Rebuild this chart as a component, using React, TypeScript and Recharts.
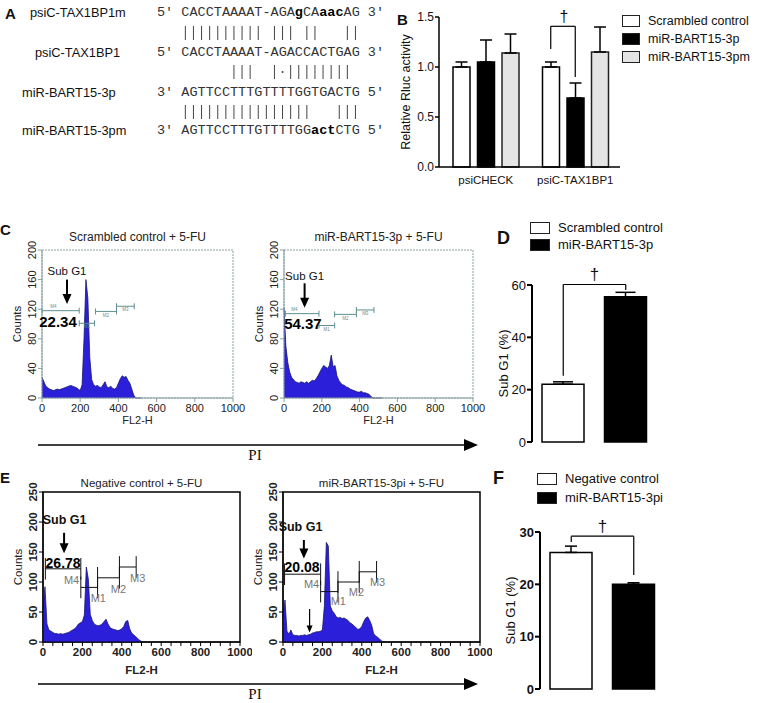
import React from "react";
import {
  BarChart,
  Bar,
  Cell,
  XAxis,
  YAxis,
  ErrorBar,
  ReferenceLine,
  ReferenceDot,
  ReferenceArea,
  Legend,
  AreaChart,
  Area,
  Label,
} from "recharts";

const SANS = "Arial, 'Liberation Sans', Helvetica, sans-serif";
const MONO = "'Courier New', 'Liberation Mono', monospace";
const HIST_FILL = "#2b1fd9";
const HIST_EDGE = "#17176e";

// ---- panel A: sequence alignment
const seqNames = ["psiC-TAX1BP1m", "psiC-TAX1BP1", "miR-BART15-3p", "miR-BART15-3pm"];
const seqStrings = [
  "5' CACCTAAAAT-AGAgCAaacAG 3'",
  "5' CACCTAAAAT-AGACCACTGAG 3'",
  "3' AGTTCCTTTGTTTTGGTGACTG 5'",
  "3' AGTTCCTTTGTTTTGGactCTG 5'",
];
const pairLines = [
  "   |||||||||| ||| ||   ||",
  "         |||  |·||||||||",
  "   ||||||||||||||||   |||",
];

// ---- panel B: luciferase assay
const bGroups = ["psiCHECK", "psiC-TAX1BP1"];
const bSeries = ["Scrambled control", "miR-BART15-3p", "miR-BART15-3pm"];
const bScrambled = [1.0, 1.0];
const bScrambledErr = [0.05, 0.05];
const bMir = [1.05, 0.69];
const bMirErr = [0.22, 0.15];
const bMirM = [1.14, 1.15];
const bMirMErr = [0.19, 0.25];
const bTicks = [0, 0.5, 1.0, 1.5];

// ---- panel D / F: sub G1 percentages
const dCats = ["Scrambled control", "miR-BART15-3p"];
const dValues = [22.1, 55.5];
const dErr = [0.9, 1.7];
const dTicks = [0, 20, 40, 60];

const fCats = ["Negative control", "miR-BART15-3pi"];
const fValues = [26.1, 20.0];
const fErr = [1.2, 0.3];
const fTicks = [0, 10, 20, 30];

// ---- panels C / E: flow cytometry histograms (FL2-H bins)
const flowBins = [
  0, 10, 20, 30, 40, 50, 60, 70, 80, 90, 100, 110, 120, 130, 140, 150, 160, 170, 180, 190,
  200, 210, 220, 230, 240, 250, 260, 270, 280, 290, 300, 310, 320, 330, 340, 350, 360, 370,
  380, 390, 400, 410, 420, 430, 440, 450, 460, 470, 480, 490, 500, 510, 520,
];
const scrambledCounts = [
  28, 22, 16, 14, 12, 11, 10, 11, 12, 11, 12, 13, 14, 15, 16, 17, 16, 15, 14, 12,
  10, 18, 80, 160, 135, 55, 25, 18, 16, 17, 15, 14, 18, 22, 15, 14, 16, 13, 12, 14,
  20, 26, 30, 28, 29, 24, 20, 12, 4, 0, 0, 0, 0,
];
const mirCounts = [
  122, 70, 48, 35, 28, 25, 22, 21, 20, 22, 21, 20, 22, 20, 22, 24, 23, 26, 30, 35,
  40, 44, 42, 40, 44, 58, 42, 44, 30, 24, 20, 18, 17, 15, 14, 12, 11, 10, 9, 8,
  8, 9, 7, 7, 6, 5, 2, 0, 0, 0, 0, 0, 0,
];
const negativeCounts = [
  55, 92, 30, 20, 18, 16, 14, 14, 13, 14, 13, 14, 15, 16, 18, 20, 22, 25, 30, 32,
  34, 45, 125, 105, 46, 36, 30, 28, 27, 28, 30, 34, 38, 30, 24, 22, 21, 20, 19, 20,
  22, 26, 34, 36, 22, 15, 12, 9, 6, 3, 1, 0, 0,
];
const inhibitorCounts = [
  40, 70, 18, 13, 20, 12, 11, 11, 10, 11, 11, 12, 11, 12, 13, 15, 16, 17, 17, 18,
  20, 60, 166, 160, 60, 52, 48, 42, 40, 41, 39, 40, 38, 36, 32, 30, 27, 24, 21, 22,
  26, 34, 40, 42, 36, 28, 14, 10, 8, 5, 2, 0, 0,
];
const cXTicks = [0, 200, 400, 600, 800, 1000];
const eXTicks = [
  0, 50, 100, 150, 200, 250, 300, 350, 400, 450, 500, 550, 600, 650, 700, 750, 800, 850,
  900, 950, 1000,
];
const cYTicks = [0, 40, 80, 120, 160, 200];
const eYTicks = [0, 50, 100, 150, 200, 250];

const CHAR_W = 8.1;
const SEQ_X = 157;

const Swatches = ({ names, fills, fontSize, rowH, boxW, boxH, gap }: any) => (
  <div style={{ fontFamily: SANS, fontSize, color: "#111", lineHeight: 1 }}>
    {names.map((n: string, i: number) => (
      <div key={n} style={{ display: "flex", alignItems: "center", height: rowH, whiteSpace: "nowrap" }}>
        <span
          style={{
            display: "inline-block",
            width: boxW,
            height: boxH,
            boxSizing: "border-box",
            background: fills[i],
            border: "1.3px solid #222",
            marginRight: gap,
          }}
        />
        {n}
      </div>
    ))}
  </div>
);

const RotTick = (props: any) => {
  const { x, y, payload, fs, fw } = props;
  return (
    <text
      x={x}
      y={y}
      transform={`rotate(-90 ${x} ${y})`}
      textAnchor="middle"
      fontSize={fs}
      fontWeight={fw}
      fill="#222"
      fontFamily={SANS}
    >
      {payload.value}
    </text>
  );
};

const arrowHead = (w: number, l: number) => (p: any) => (
  <polygon points={`${p.cx - w},${p.cy - l} ${p.cx + w},${p.cy - l} ${p.cx},${p.cy}`} fill="#000" />
);

const textShape = (txt: string, fs: number, fw: string, fill: string) => (p: any) => (
  <text
    x={p.cx}
    y={p.cy}
    textAnchor="middle"
    dominantBaseline="central"
    fontSize={fs}
    fontWeight={fw}
    fill={fill}
    fontFamily={SANS}
  >
    {txt}
  </text>
);

// draws a reference segment shifted sideways by dx pixels (bracket legs inside a bar group)
const shiftedLine = (dx: number, dagger?: boolean) => (p: any) => (
  <g>
    <line x1={p.x1 + dx} y1={p.y1} x2={p.x2} y2={p.y2} stroke="#000" strokeWidth={1.2} />
    {dagger ? (
      <text x={p.x1 + dx / 2 + 1} y={p.y1 - 4} textAnchor="middle" fontSize={16} fill="#111" fontFamily={SANS}>
        †
      </text>
    ) : null}
  </g>
);
const legLine = (dx: number) => (p: any) => (
  <line x1={p.x1 + dx} y1={p.y1} x2={p.x2 + dx} y2={p.y2} stroke="#000" strokeWidth={1.2} />
);

const FlowHistogram = ({ cfg }: any) => {
  const data = flowBins.map((x, i) => ({ x, c: cfg.counts[i] }));
  const left = cfg.plotLeft - 42;
  const top = cfg.plotTop - 20;
  const width = cfg.plotRight - left + 12;
  const height = cfg.plotBottom - top + cfg.xAxisH;
  const axisStroke = cfg.frame;
  return (
    <>
      <div
        style={{
          position: "absolute",
          left: (cfg.plotLeft + cfg.plotRight) / 2 - 120,
          width: 240,
          top: cfg.titleY - 8,
          textAlign: "center",
          fontSize: cfg.titleSize,
          lineHeight: "16px",
          color: "#222",
        }}
      >
        {cfg.title}
      </div>
      <div style={{ position: "absolute", left, top }}>
        <AreaChart width={width} height={height} data={data} margin={{ top: 20, right: 12, bottom: 0, left: 0 }}>
          <XAxis
            type="number"
            dataKey="x"
            domain={[0, 1000]}
            ticks={cfg.xTicks}
            interval={0}
            tickFormatter={(v: number) => (v % 200 === 0 ? String(v) : "")}
            height={cfg.xAxisH}
            tickSize={4}
            tickMargin={2}
            stroke={axisStroke}
            tick={{ fontSize: cfg.tickSize, fill: "#222", fontWeight: cfg.tickWeight, fontFamily: SANS }}
          >
            <Label
              value="FL2-H"
              position="center"
              dy={cfg.xLabelDy}
              fontSize={cfg.tickSize}
              fontWeight={cfg.tickWeight}
              fill="#222"
            />
          </XAxis>
          <YAxis
            width={42}
            domain={[0, cfg.yMax]}
            ticks={cfg.yTicks}
            interval={0}
            tickSize={4}
            tickMargin={2}
            stroke={axisStroke}
            tick={(p: any) => <RotTick {...p} fs={cfg.tickSize} fw={cfg.tickWeight} />}
          >
            <Label value="Counts" angle={-90} position="center" dx={-4} fontSize={11.5} fill="#222" />
          </YAxis>
          <ReferenceArea
            x1={0}
            x2={1000}
            y1={0}
            y2={cfg.yMax}
            fill="none"
            stroke={axisStroke}
            strokeWidth={cfg.frameW}
            strokeDasharray={cfg.frameDash}
            ifOverflow="visible"
          />
          <Area
            type="linear"
            dataKey="c"
            fill={HIST_FILL}
            fillOpacity={1}
            stroke={HIST_EDGE}
            strokeWidth={0.8}
            isAnimationActive={false}
          />
          {cfg.gates.map((g: any) => (
            <ReferenceLine
              key={g.label + "h"}
              segment={[{ x: g.from, y: g.at }, { x: g.to, y: g.at }]}
              stroke={cfg.gateColor}
              strokeWidth={1}
            />
          ))}
          {cfg.gates.map((g: any) => (
            <ReferenceLine
              key={g.label + "a"}
              segment={[{ x: g.from, y: g.at - cfg.gateTick }, { x: g.from, y: g.at + cfg.gateTick }]}
              stroke={cfg.gateColor}
              strokeWidth={1}
            />
          ))}
          {cfg.gates.map((g: any) => (
            <ReferenceLine
              key={g.label + "b"}
              segment={[{ x: g.to, y: g.at - cfg.gateTick }, { x: g.to, y: g.at + cfg.gateTick }]}
              stroke={cfg.gateColor}
              strokeWidth={1}
            />
          ))}
          {cfg.gates.map((g: any) => (
            <ReferenceDot
              key={g.label + "t"}
              x={g.lx}
              y={g.ly}
              r={0}
              shape={textShape(g.label, cfg.gateLabelSize, "normal", cfg.gateLabelColor)}
            />
          ))}
          {cfg.arrows.map((a: any, i: number) => (
            <ReferenceLine
              key={"s" + i}
              segment={[{ x: a.x, y: a.from }, { x: a.x, y: a.to + 4 }]}
              stroke="#000"
              strokeWidth={a.w}
            />
          ))}
          {cfg.arrows.map((a: any, i: number) => (
            <ReferenceDot key={"h" + i} x={a.x} y={a.to} r={0} shape={arrowHead(a.hw, a.hl)} />
          ))}
          <ReferenceDot
            x={cfg.sub.x}
            y={cfg.sub.y}
            r={0}
            shape={textShape("Sub G1", cfg.sub.size, cfg.sub.weight, "#111")}
          />
          <ReferenceDot
            x={cfg.pct.x}
            y={cfg.pct.y}
            r={0}
            shape={textShape(cfg.pct.text, cfg.pct.size, "bold", "#000")}
          />
        </AreaChart>
      </div>
    </>
  );
};

const cScrambled = {
  title: "Scrambled control + 5-FU",
  titleY: 237,
  titleSize: 12,
  counts: scrambledCounts,
  plotLeft: 42,
  plotRight: 233,
  plotTop: 250,
  plotBottom: 398,
  xAxisH: 31,
  xLabelDy: 7,
  xTicks: cXTicks,
  yTicks: cYTicks,
  yMax: 200,
  tickSize: 11,
  tickWeight: "normal",
  frame: "#8aa0a0",
  frameW: 1,
  frameDash: "2 1",
  gateColor: "#5f8f8f",
  gateTick: 4,
  gateLabelSize: 4.5,
  gateLabelColor: "#5f8f8f",
  gates: [
    { from: 0, to: 195, at: 118, label: "M4", lx: 60, ly: 123 },
    { from: 195, to: 275, at: 101, label: "M1", lx: 235, ly: 96 },
    { from: 280, to: 390, at: 117, label: "M2", lx: 335, ly: 112 },
    { from: 390, to: 483, at: 124, label: "M3", lx: 436, ly: 119 },
  ],
  arrows: [{ x: 131, from: 160, to: 127, w: 2, hw: 4.5, hl: 10 }],
  sub: { x: 131, y: 172, size: 11.5, weight: "normal" },
  pct: { x: 84, y: 104, text: "22.34", size: 15 },
};

const cMir = {
  ...cScrambled,
  title: "miR-BART15-3p + 5-FU",
  counts: mirCounts,
  plotLeft: 284,
  plotRight: 473,
  gates: [
    { from: 7, to: 185, at: 114, label: "M4", lx: 55, ly: 119 },
    { from: 185, to: 268, at: 98, label: "M1", lx: 226, ly: 93 },
    { from: 268, to: 383, at: 113, label: "M2", lx: 325, ly: 108 },
    { from: 383, to: 476, at: 119, label: "M3", lx: 430, ly: 114 },
  ],
  arrows: [{ x: 109, from: 155, to: 122, w: 2, hw: 4.5, hl: 10 }],
  sub: { x: 109, y: 165, size: 11.5, weight: "normal" },
  pct: { x: 100, y: 101, text: "54.37", size: 15 },
};

const eNegative = {
  title: "Negative control + 5-FU",
  titleY: 483,
  titleSize: 11.5,
  counts: negativeCounts,
  plotLeft: 43,
  plotRight: 240,
  plotTop: 492,
  plotBottom: 642,
  xAxisH: 34,
  xLabelDy: 11,
  xTicks: eXTicks,
  yTicks: eYTicks,
  yMax: 250,
  tickSize: 11.5,
  tickWeight: "bold",
  frame: "#000",
  frameW: 1.5,
  frameDash: undefined,
  gateColor: "#111",
  gateTick: 18,
  gateLabelSize: 11,
  gateLabelColor: "#777",
  gates: [
    { from: 12, to: 192, at: 122, label: "M4", lx: 145, ly: 103 },
    { from: 192, to: 277, at: 91, label: "M1", lx: 281, ly: 74 },
    { from: 277, to: 388, at: 107, label: "M2", lx: 383, ly: 89 },
    { from: 388, to: 473, at: 125, label: "M3", lx: 481, ly: 106 },
  ],
  arrows: [{ x: 107, from: 182, to: 148, w: 2, hw: 4.5, hl: 10 }],
  sub: { x: 110, y: 203, size: 12.5, weight: "bold" },
  pct: { x: 102, y: 131, text: "26.78", size: 14 },
};

const eInhibitor = {
  ...eNegative,
  title: "miR-BART15-3pi + 5-FU",
  counts: inhibitorCounts,
  plotLeft: 283,
  plotRight: 480,
  gates: [
    { from: 8, to: 191, at: 113, label: "M4", lx: 145, ly: 97 },
    { from: 191, to: 279, at: 84, label: "M1", lx: 281, ly: 69 },
    { from: 279, to: 387, at: 100, label: "M2", lx: 373, ly: 83 },
    { from: 387, to: 475, at: 117, label: "M3", lx: 480, ly: 100 },
  ],
  arrows: [
    { x: 106, from: 170, to: 139, w: 2, hw: 4.5, hl: 10 },
    { x: 135, from: 55, to: 16, w: 1.2, hw: 3, hl: 7 },
  ],
  sub: { x: 89, y: 192, size: 12.5, weight: "bold" },
  pct: { x: 97, y: 125, text: "20.08", size: 14 },
};

const PIArrow = ({ y }: { y: number }) => (
  <>
    <svg style={{ position: "absolute", left: 0, top: y - 8 }} width={490} height={16}>
      <line x1={38} y1={8} x2={466} y2={8} stroke="#000" strokeWidth={1.5} />
      <polygon points="464,2 478,8 464,14" fill="#000" />
    </svg>
    <div
      style={{
        position: "absolute",
        left: 235,
        width: 40,
        top: y + 2,
        textAlign: "center",
        fontFamily: "'Liberation Serif', serif",
        fontSize: 15,
        lineHeight: "16px",
      }}
    >
      PI
    </div>
  </>
);

const Letter = ({ ch, x, y, size }: any) => (
  <div style={{ position: "absolute", left: x, top: y - size / 2 - 1, fontWeight: "bold", fontSize: size, lineHeight: `${size + 2}px` }}>
    {ch}
  </div>
);

const PairMarks = ({ s, y }: { s: string; y: number }) => (
  <svg style={{ position: "absolute", left: SEQ_X, top: y - 9 }} width={s.length * CHAR_W + 4} height={18}>
    {[...s].map((ch, j) => {
      const cx = j * CHAR_W + CHAR_W / 2;
      if (ch === "|") return <line key={j} x1={cx} y1={2} x2={cx} y2={16} stroke="#444" strokeWidth={1} />;
      if (ch === "·") return <circle key={j} cx={cx} cy={9} r={1} fill="#444" />;
      return null;
    })}
  </svg>
);

export default function App() {
  const seqRowY = [13, 53, 93, 131];
  const pairY = [33, 72, 112];
  const seqNameX = [30, 35, 22, 22];

  const bData = bGroups.map((g, i) => ({
    group: g,
    s0: bScrambled[i],
    e0: [0, bScrambledErr[i]],
    s1: bMir[i],
    e1: [0, bMirErr[i]],
    s2: bMirM[i],
    e2: [0, bMirMErr[i]],
  }));
  const bBar = 17;
  const bGap = 7.5;
  const bShift = -(bBar + bGap);

  const dData = dCats.map((c, i) => ({ name: c, v: dValues[i], e: [0, dErr[i]] }));
  const fData = fCats.map((c, i) => ({ name: c, v: fValues[i], e: [0, fErr[i]] }));
  const twoFills = ["#ffffff", "#000000"];

  return (
    <div
      style={{
        position: "absolute",
        left: 0,
        top: 0,
        width: 764,
        height: 703,
        background: "#fff",
        fontFamily: SANS,
        color: "#111",
        overflow: "hidden",
      }}
    >
      {/* A */}
      <Letter ch="A" x={5} y={13} size={15} />
      {seqNames.map((n, i) => (
        <div
          key={n}
          style={{ position: "absolute", left: seqNameX[i], top: seqRowY[i] - 8, fontSize: 12.8, lineHeight: "16px", whiteSpace: "nowrap" }}
        >
          {n}
        </div>
      ))}
      {seqStrings.map((s, i) => (
        <div
          key={s}
          style={{
            position: "absolute",
            left: SEQ_X,
            top: seqRowY[i] - 8,
            fontFamily: MONO,
            fontSize: 13.5,
            lineHeight: "16px",
            whiteSpace: "pre",
            color: "#333",
          }}
        >
          {[...s].map((ch, j) => (ch >= "a" && ch <= "z" ? <b key={j} style={{ color: "#000" }}>{ch}</b> : ch))}
        </div>
      ))}
      {pairLines.map((s, i) => (
        <PairMarks key={i} s={s} y={pairY[i]} />
      ))}

      {/* B */}
      <Letter ch="B" x={397} y={19} size={15} />
      <div style={{ position: "absolute", left: 390, top: 0 }}>
        <BarChart
          width={374}
          height={190}
          data={bData}
          margin={{ top: 17, right: 144, bottom: 3, left: 0 }}
          barSize={bBar}
          barGap={bGap}
        >
          <XAxis
            dataKey="group"
            padding={{ left: 2, right: 0 }}
            height={20}
            tickLine={false}
            tickMargin={3}
            interval={0}
            stroke="#000"
            strokeWidth={1.5}
            tick={{ fontSize: 11.5, fill: "#111", fontFamily: SANS }}
          />
          <YAxis
            width={49}
            domain={[0, 1.5]}
            ticks={bTicks}
            interval={0}
            tickFormatter={(v: number) => v.toFixed(1)}
            tickSize={4}
            tickMargin={1}
            stroke="#000"
            strokeWidth={1.5}
            tick={{ fontSize: 12, fill: "#111", fontFamily: SANS }}
          >
            <Label value="Relative Rluc activity" angle={-90} position="center" dx={-9} fontSize={12.5} fill="#111" />
          </YAxis>
          <Bar dataKey="s0" name={bSeries[0]} fill="#ffffff" stroke="#000" strokeWidth={1.5} isAnimationActive={false}>
            <ErrorBar dataKey="e0" width={6} stroke="#000" strokeWidth={1.5} />
          </Bar>
          <Bar dataKey="s1" name={bSeries[1]} fill="#000000" stroke="#000" strokeWidth={1.5} isAnimationActive={false}>
            <ErrorBar dataKey="e1" width={6} stroke="#000" strokeWidth={1.5} />
          </Bar>
          <Bar dataKey="s2" name={bSeries[2]} fill="#e4e4e4" stroke="#222" strokeWidth={1.5} isAnimationActive={false}>
            <ErrorBar dataKey="e2" width={6} stroke="#000" strokeWidth={1.5} />
          </Bar>
          <ReferenceLine
            segment={[{ x: bGroups[1], y: 1.407 }, { x: bGroups[1], y: 1.407 }]}
            ifOverflow="visible"
            shape={shiftedLine(bShift, true)}
          />
          <ReferenceLine
            segment={[{ x: bGroups[1], y: 1.407 }, { x: bGroups[1], y: 1.18 }]}
            ifOverflow="visible"
            shape={legLine(bShift)}
          />
          <ReferenceLine
            segment={[{ x: bGroups[1], y: 1.407 }, { x: bGroups[1], y: 0.9 }]}
            ifOverflow="visible"
            shape={legLine(0)}
          />
          <Legend
            layout="vertical"
            align="center"
            verticalAlign="middle"
            wrapperStyle={{ left: 232, top: 12, width: 142 }}
            content={() => (
              <Swatches
                names={bSeries}
                fills={["#ffffff", "#000000", "#e4e4e4"]}
                fontSize={12.5}
                rowH={18}
                boxW={18}
                boxH={12}
                gap={8}
              />
            )}
          />
        </BarChart>
      </div>

      {/* C */}
      <Letter ch="C" x={0} y={229} size={15} />
      <FlowHistogram cfg={cScrambled} />
      <FlowHistogram cfg={cMir} />
      <PIArrow y={445} />

      {/* D */}
      <Letter ch="D" x={497} y={238} size={18} />
      <div style={{ position: "absolute", left: 490, top: 200 }}>
        <BarChart width={180} height={262} data={dData} margin={{ top: 85, right: 13, bottom: 20, left: 0 }} barSize={42}>
          <XAxis dataKey="name" tick={false} tickLine={false} height={0} stroke="#000" strokeWidth={2} />
          <YAxis
            width={42}
            domain={[0, 60]}
            ticks={dTicks}
            interval={0}
            tickSize={5}
            tickMargin={1}
            stroke="#000"
            strokeWidth={2}
            tick={{ fontSize: 13, fill: "#111", fontFamily: SANS }}
          >
            <Label value="Sub G1 (%)" angle={-90} position="center" dx={-8} fontSize={13} fill="#111" />
          </YAxis>
          <Bar dataKey="v" strokeWidth={1.5} isAnimationActive={false}>
            {dCats.map((c, i) => (
              <Cell key={c} fill={twoFills[i]} stroke="#000" />
            ))}
            <ErrorBar dataKey="e" width={10} stroke="#000" strokeWidth={1.5} />
          </Bar>
          <ReferenceLine
            segment={[{ x: dCats[0], y: 60.2 }, { x: dCats[1], y: 60.2 }]}
            ifOverflow="visible"
            stroke="#000"
            strokeWidth={1.2}
            label={{ value: "†", position: "top", offset: 4, fontSize: 17, fill: "#111" }}
          />
          <ReferenceLine
            segment={[{ x: dCats[0], y: 60.2 }, { x: dCats[0], y: 25.3 }]}
            ifOverflow="visible"
            stroke="#000"
            strokeWidth={1.2}
          />
          <ReferenceLine
            segment={[{ x: dCats[1], y: 60.2 }, { x: dCats[1], y: 58.1 }]}
            ifOverflow="visible"
            stroke="#000"
            strokeWidth={1.2}
          />
          <Legend
            layout="vertical"
            align="center"
            verticalAlign="middle"
            wrapperStyle={{ left: 40, top: 19, width: 140 }}
            content={() => (
              <Swatches names={dCats} fills={twoFills} fontSize={13} rowH={17} boxW={20} boxH={12} gap={8} />
            )}
          />
        </BarChart>
      </div>

      {/* E */}
      <Letter ch="E" x={0} y={477} size={15} />
      <FlowHistogram cfg={eNegative} />
      <FlowHistogram cfg={eInhibitor} />
      <PIArrow y={684} />

      {/* F */}
      <Letter ch="F" x={493} y={478} size={18} />
      <div style={{ position: "absolute", left: 490, top: 460 }}>
        <BarChart width={190} height={243} data={fData} margin={{ top: 72, right: 15, bottom: 14, left: 0 }} barSize={42}>
          <XAxis dataKey="name" tick={false} tickLine={false} height={0} stroke="#000" strokeWidth={2} />
          <YAxis
            width={50}
            domain={[0, 30]}
            ticks={fTicks}
            interval={0}
            tickSize={5}
            tickMargin={1}
            stroke="#000"
            strokeWidth={2}
            tick={{ fontSize: 13, fill: "#111", fontWeight: "bold", fontFamily: SANS }}
          >
            <Label value="Sub G1 (%)" angle={-90} position="center" dx={-5} fontSize={13} fill="#111" />
          </YAxis>
          <Bar dataKey="v" strokeWidth={1.5} isAnimationActive={false}>
            {fCats.map((c, i) => (
              <Cell key={c} fill={twoFills[i]} stroke="#000" />
            ))}
            <ErrorBar dataKey="e" width={6} stroke="#000" strokeWidth={1.5} />
          </Bar>
          <ReferenceLine
            segment={[{ x: fCats[0], y: 29.2 }, { x: fCats[1], y: 29.2 }]}
            stroke="#000"
            strokeWidth={1.2}
            label={{ value: "†", position: "top", offset: 4, fontSize: 17, fill: "#111" }}
          />
          <ReferenceLine segment={[{ x: fCats[0], y: 29.2 }, { x: fCats[0], y: 28.1 }]} stroke="#000" strokeWidth={1.2} />
          <ReferenceLine segment={[{ x: fCats[1], y: 29.2 }, { x: fCats[1], y: 21.8 }]} stroke="#000" strokeWidth={1.2} />
          <Legend
            layout="vertical"
            align="center"
            verticalAlign="middle"
            wrapperStyle={{ left: 47, top: 9, width: 140 }}
            content={() => (
              <Swatches names={fCats} fills={twoFills} fontSize={13} rowH={19} boxW={20} boxH={12} gap={8} />
            )}
          />
        </BarChart>
      </div>
    </div>
  );
}
